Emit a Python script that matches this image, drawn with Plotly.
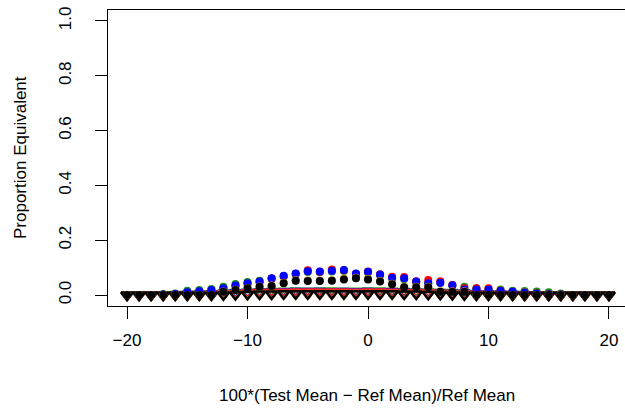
import plotly.graph_objects as go

# Percent difference between test and reference means
pct_diff = list(range(-20, 21))

# Proportion of simulated trials declared equivalent (upper, circle markers)
prop_blue = [0, 0, 0, 0.002, 0.004, 0.010, 0.014, 0.018, 0.025, 0.035, 0.043, 0.049, 0.061, 0.070,
             0.079, 0.087, 0.086, 0.089, 0.091, 0.079, 0.085, 0.075, 0.063, 0.061, 0.049, 0.043,
             0.045, 0.036, 0.020, 0.020, 0.020, 0.015, 0.012, 0.008, 0.006, 0.003, 0.002, 0, 0, 0, 0]
prop_red = [0, 0, 0, 0.001, 0.003, 0.008, 0.012, 0.016, 0.022, 0.032, 0.040, 0.047, 0.059, 0.069,
            0.078, 0.090, 0.085, 0.093, 0.090, 0.078, 0.086, 0.076, 0.067, 0.066, 0.050, 0.055,
            0.050, 0.037, 0.025, 0.025, 0.025, 0.016, 0.012, 0.009, 0.006, 0.003, 0.002, 0, 0, 0, 0]
prop_green = [0, 0, 0, 0.004, 0.006, 0.016, 0.018, 0.022, 0.030, 0.040, 0.048, 0.052, 0.060, 0.068,
              0.076, 0.084, 0.083, 0.086, 0.088, 0.076, 0.082, 0.072, 0.060, 0.058, 0.047, 0.042,
              0.044, 0.035, 0.030, 0.025, 0.022, 0.020, 0.016, 0.015, 0.013, 0.010, 0.006, 0, 0, 0, 0]
prop_orange = [0, 0, 0, 0, 0, 0, 0, 0, 0.013, 0.019, 0.026, 0.031, 0.035, 0.045,
               0.054, 0.053, 0.053, 0.054, 0.059, 0.063, 0.059, 0.051, 0.041, 0.030, 0.030, 0.030,
               0.014, 0.014, 0.014, 0, 0, 0, 0, 0, 0, 0, 0, 0, 0, 0, 0]
prop_black = [0, 0, 0, 0, 0, 0, 0, 0, 0.012, 0.018, 0.025, 0.030, 0.033, 0.043,
              0.052, 0.051, 0.051, 0.052, 0.057, 0.061, 0.057, 0.049, 0.039, 0.028, 0.028, 0.028,
              0.012, 0.012, 0.012, 0, 0, 0, 0, 0, 0, 0, 0, 0, 0, 0, 0]

# Lower group (open down-triangle markers)
tri_green = [0, 0, 0, 0.001, 0.002, 0.003, 0.004, 0.005, 0.007, 0.009, 0.010, 0.012, 0.013, 0.014,
             0.015, 0.014, 0.015, 0.015, 0.014, 0.014, 0.015, 0.015, 0.014, 0.013, 0.012, 0.011,
             0.010, 0.009, 0.008, 0.006, 0.005, 0.004, 0.003, 0.002, 0.001, 0, 0, 0, 0, 0, 0]
tri_blue = [0, 0, 0, 0, 0.001, 0.002, 0.003, 0.004, 0.006, 0.008, 0.009, 0.010, 0.011, 0.012,
            0.013, 0.013, 0.013, 0.012, 0.013, 0.012, 0.013, 0.012, 0.012, 0.011, 0.010, 0.009,
            0.008, 0.007, 0.006, 0.005, 0.004, 0.003, 0.002, 0.001, 0, 0, 0, 0, 0, 0, 0]
tri_red = [0, 0, 0, 0, 0, 0.001, 0.002, 0.003, 0.005, 0.006, 0.008, 0.009, 0.010, 0.010,
           0.011, 0.011, 0.011, 0.011, 0.011, 0.010, 0.011, 0.011, 0.010, 0.009, 0.009, 0.008,
           0.007, 0.006, 0.005, 0.004, 0.003, 0.002, 0.001, 0, 0, 0, 0, 0, 0, 0, 0]
tri_orange = [0, 0, 0, 0, 0, 0, 0, 0.001, 0.002, 0.003, 0.004, 0.005, 0.005, 0.006,
              0.006, 0.006, 0.006, 0.006, 0.006, 0.006, 0.006, 0.006, 0.006, 0.005, 0.005, 0.004,
              0.004, 0.003, 0.002, 0.001, 0.001, 0, 0, 0, 0, 0, 0, 0, 0, 0, 0]
tri_black = [0, 0, 0, 0, 0, 0, 0, 0, 0.001, 0.002, 0.003, 0.004, 0.004, 0.005,
             0.005, 0.005, 0.005, 0.005, 0.005, 0.005, 0.005, 0.005, 0.005, 0.004, 0.004, 0.003,
             0.003, 0.002, 0.001, 0, 0, 0, 0, 0, 0, 0, 0, 0, 0, 0, 0]
base_gray = [0] * 41

x_ticks = [-20, -10, 0, 10, 20]
x_tick_text = ["\u221220", "\u221210", "0", "10", "20"]
y_ticks = [0.0, 0.2, 0.4, 0.6, 0.8, 1.0]
y_tick_text = ["0.0", "0.2", "0.4", "0.6", "0.8", "1.0"]

FONT = "Liberation Sans, Arial, Helvetica, sans-serif"

fig = go.Figure()

# gray baseline markers underneath everything
fig.add_trace(go.Scatter(x=pct_diff, y=base_gray, mode="markers",
                         marker=dict(symbol="circle", size=8, color="#c4c4c4")))

for vals, col in [(tri_green, "#1f9e1f"), (tri_blue, "#1414ff"), (tri_red, "#ff1a1a"),
                  (tri_orange, "#e69a28"), (tri_black, "#000000")]:
    fig.add_trace(go.Scatter(x=pct_diff, y=vals, mode="markers",
                             marker=dict(symbol="triangle-down-open", size=10, color=col,
                                         line=dict(width=2.5))))

for vals, col in [(prop_green, "#1f8f1f"), (prop_red, "#ff0000"), (prop_blue, "#0000ff"),
                  (prop_orange, "#e69a28"), (prop_black, "#000000")]:
    fig.add_trace(go.Scatter(x=pct_diff, y=vals, mode="markers",
                             marker=dict(symbol="circle", size=8, color=col,
                                         line=dict(width=0))))

fig.update_layout(
    width=625, height=408,
    margin=dict(l=108, r=0, t=10, b=102),
    paper_bgcolor="white", plot_bgcolor="white",
    showlegend=False,
    font=dict(family=FONT, size=17, color="black"),
    xaxis=dict(range=[-21.58, 21.33], tickvals=x_ticks, ticktext=x_tick_text,
               showgrid=False, zeroline=False, showline=True, mirror=True,
               linecolor="black", linewidth=1, ticks="outside", ticklen=12,
               tickwidth=1, tickcolor="black", ticklabelstandoff=7),
    yaxis=dict(range=[-0.04, 1.04], tickvals=y_ticks, ticktext=y_tick_text,
               showgrid=False, zeroline=False, showline=True, mirror=False,
               linecolor="black", linewidth=1, ticks="outside", ticklen=12,
               tickwidth=1, tickcolor="black", tickangle=-90, ticklabelstandoff=17),
    annotations=[
        dict(text="100*(Test Mean \u2212 Ref Mean)/Ref Mean", xref="paper", yref="paper",
             x=0.5, y=0, yshift=-89, xanchor="center", yanchor="middle",
             showarrow=False, font=dict(size=17)),
        dict(text="Proportion Equivalent", xref="paper", yref="paper",
             x=0, y=0.5, xshift=-88, textangle=-90, xanchor="center", yanchor="middle",
             showarrow=False, font=dict(size=17)),
    ],
)

fig.write_html("out.html")
